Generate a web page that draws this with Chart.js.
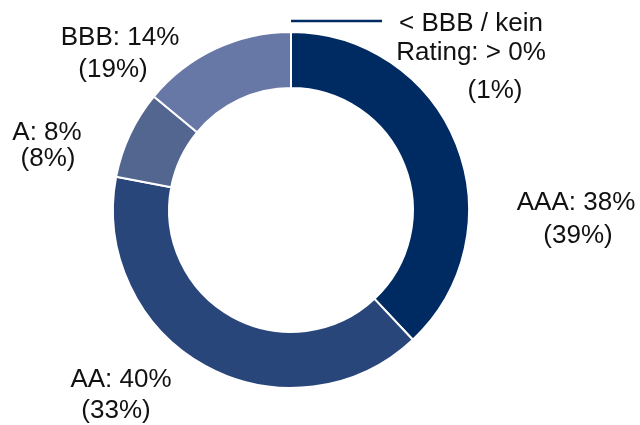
<!DOCTYPE html>
<html lang="de">
<head>
    <meta charset="UTF-8">
    <title>Rating-Verteilung</title>
    <script src="https://cdn.jsdelivr.net/npm/chart.js"></script>
    <style>
        body {
            margin: 0;
            background: #ffffff;
        }
        #wrap {
            width: 640px;
            height: 425px;
        }
    </style>
</head>
<body>
    <div id="wrap"><canvas id="ratingChart"></canvas></div>

    <script>
        const categories = ['AAA', 'AA', 'A', 'BBB', '< BBB / kein Rating'];
        const shares = [38, 40, 8, 14, 0];        // aktueller Anteil in %
        const priorShares = [39, 33, 8, 19, 1];   // Vorjahr in % (Klammerwert)
        const colors = ['#002a62', '#29467a', '#52668f', '#6878a6', '#002a62'];

        const FONT = '26px "Liberation Sans", Arial, sans-serif';

        // label lines for slice i
        function labelLines(i) {
            const cur = shares[i] === 0 ? '> 0%' : shares[i] + '%';
            const prev = '(' + priorShares[i] + '%)';
            if (i === 4) return ['< BBB / kein', 'Rating: ' + cur, prev];
            return [categories[i] + ': ' + cur, prev];
        }
        // anchor offsets from the doughnut centre (first baseline), line gap, x shift per line
        const labelPlace = [
            {dx: 285, dy: 0, gap: 33, shift: [0, 2]},
            {dx: -170, dy: 177, gap: 31, shift: [0, -5]},
            {dx: -244, dy: -70, gap: 26, shift: [0, 1]},
            {dx: -171, dy: -165, gap: 32, shift: [0, -7]},
            {dx: 180, dy: -179, gap: 29, shift: [0, 0, 24]}
        ];

        const labelPlugin = {
            id: 'ratingLabels',
            afterDraw(chart) {
                const ctx = chart.ctx;
                const arcs = chart.getDatasetMeta(0).data;
                const cx = arcs[0].x, cy = arcs[0].y, r = arcs[0].outerRadius;
                ctx.save();
                // leader line for the tiny slice
                ctx.strokeStyle = '#002a62';
                ctx.lineWidth = 2.5;
                ctx.beginPath();
                ctx.moveTo(cx, cy - r - 11);
                ctx.lineTo(cx + 91, cy - r - 11);
                ctx.stroke();

                ctx.font = FONT;
                ctx.fillStyle = '#111111';
                ctx.textAlign = 'center';
                ctx.textBaseline = 'alphabetic';
                categories.forEach((c, i) => {
                    const p = labelPlace[i];
                    labelLines(i).forEach((line, k) => {
                        const y = cy + p.dy + (k === 0 ? 0 : p.gap + (k === 2 ? 38 : 0));
                        ctx.fillText(line, cx + p.dx + (p.shift[k] || 0), y);
                    });
                });
                ctx.restore();
            }
        };

        new Chart(document.getElementById('ratingChart'), {
            type: 'doughnut',
            data: {
                labels: categories,
                datasets: [{
                    data: shares,
                    backgroundColor: colors,
                    borderColor: '#ffffff',
                    borderWidth: 2
                }]
            },
            options: {
                responsive: true,
                maintainAspectRatio: false,
                animation: false,
                radius: 178,
                cutout: '68.5%',
                layout: {padding: {left: 0, right: 58, top: 0, bottom: 5}},
                events: [],
                plugins: {
                    legend: {display: false},
                    tooltip: {enabled: false}
                }
            },
            plugins: [labelPlugin]
        });
    </script>
</body>
</html>
